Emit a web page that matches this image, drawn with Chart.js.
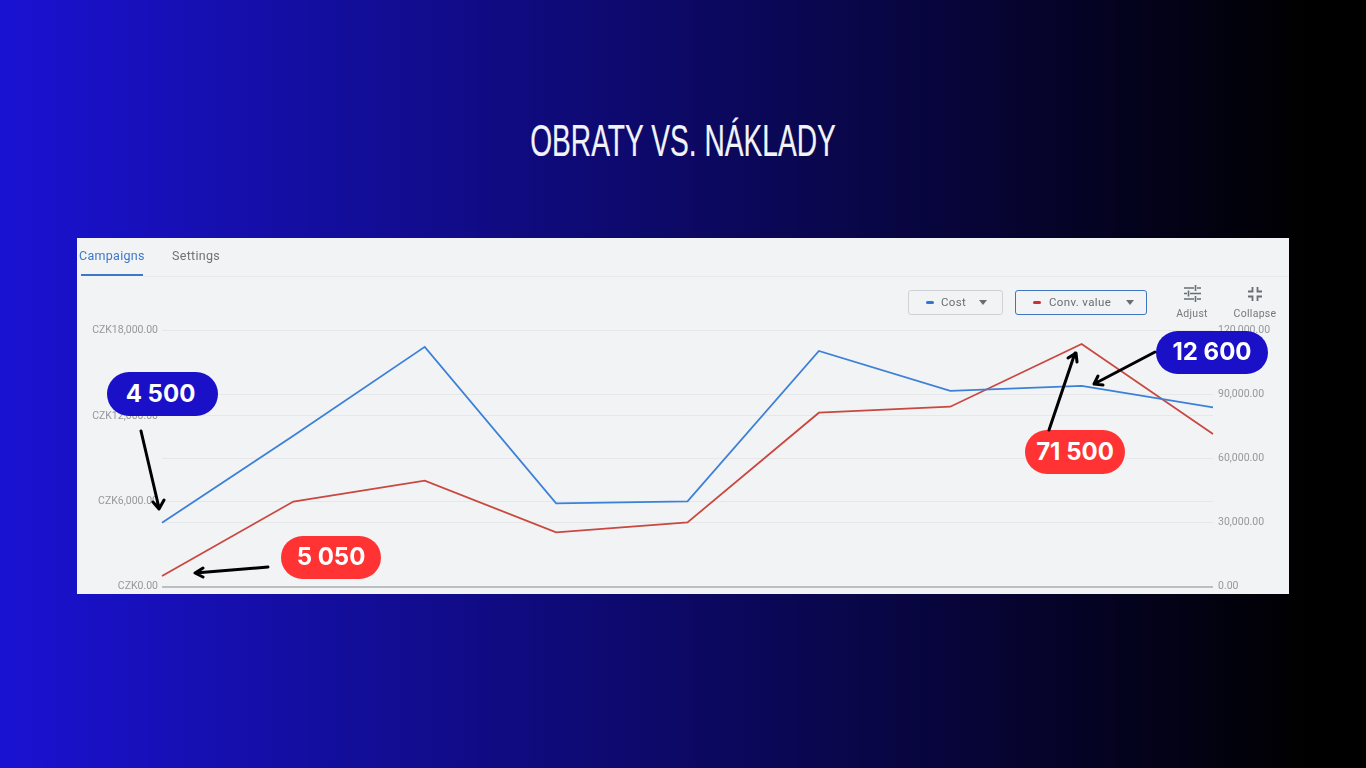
<!DOCTYPE html>
<html>
<head>
<meta charset="utf-8">
<title>Obraty vs. náklady</title>
<script src="https://cdn.jsdelivr.net/npm/chart.js@4"></script>
<style>
  html, body { margin: 0; padding: 0; }
  body { width: 1366px; height: 768px; overflow: hidden; position: relative;
         background: linear-gradient(90deg, #1a12d2 0%, #000 96%); font-family: Roboto, sans-serif; }
  h1 { position: absolute; left: 0; width: 1366px; top: 116px; margin: 0; text-align: center; color: #f2f3f7;
       font: 400 44px/50px "Liberation Sans", sans-serif; transform: scaleX(.64); transform-origin: 683px 0; white-space: nowrap;
       -webkit-text-stroke: .2px #f2f3f7; }
  #panel { position: absolute; left: 77px; top: 238px; width: 1212px; height: 356px; background: #f1f3f5; overflow: hidden; }
  #myChart { position: absolute; left: 0; top: 0; }
  .abs { position: absolute; white-space: nowrap; }
  .tab { top: 10px; font-size: 12.5px; line-height: 16px; letter-spacing: .3px; }
  .chip { box-sizing: border-box; top: 52px; height: 25px; border-radius: 3px; }
  .dash { top: 63px; width: 8px; height: 3px; border-radius: 2px; }
  .chipText { top: 57px; font-size: 11.5px; line-height: 15px; letter-spacing: .35px; color: #6a6e73; }
  .caret { top: 62px; width: 0; height: 0; border-left: 4.5px solid transparent; border-right: 4.5px solid transparent; border-top: 5px solid #6a6e73; }
  .tool { top: 69px; font-size: 10.5px; line-height: 14px; letter-spacing: .3px; color: #75797e; transform: translateX(-50%); }
  .badge { position: absolute; color: #fff; font: 700 24px/1 Inter, sans-serif; display: flex; align-items: center; justify-content: center; border-radius: 22px; height: 44px; box-sizing: border-box; padding-bottom: 1px; }
  #arrows { position: absolute; left: 0; top: 0; }
</style>
</head>
<body>
<h1>OBRATY VS. NÁKLADY</h1>
<div id="panel">
  <canvas id="myChart" width="1212" height="356"></canvas>
  <div class="abs tab" style="left:2px;color:#3c78c9">Campaigns</div>
  <div class="abs tab" style="left:95px;color:#6f7377">Settings</div>
  <div class="abs" style="left:4px;top:36px;width:62px;height:2px;background:#3c78c9"></div>
  <div class="abs" style="left:66px;top:38px;width:1146px;height:1px;background:#e7e9eb"></div>

  <div class="abs chip" style="left:831px;width:95px;border:1.5px solid #cfd2d5"></div>
  <div class="abs dash" style="left:849px;background:#2f76d8"></div>
  <div class="abs chipText" style="left:864px">Cost</div>
  <div class="abs caret" style="left:902px"></div>
  <div class="abs chip" style="left:938px;width:132px;border:1.5px solid #3f74bf"></div>
  <div class="abs dash" style="left:956px;background:#cf2e2e"></div>
  <div class="abs chipText" style="left:972px">Conv. value</div>
  <div class="abs caret" style="left:1049px"></div>

  <svg class="abs" style="left:1107px;top:47px" width="17" height="17" viewBox="0 0 17 17" stroke="#6a6e73" stroke-width="1.6" fill="none">
    <path d="M0 3H10M13 3H17M11.5 0V6M0 8.5H3M6 8.5H17M4.5 5.5V11.5M0 14H10M13 14H17M11.5 11V17"/>
  </svg>
  <div class="abs tool" style="left:1115px">Adjust</div>
  <svg class="abs" style="left:1171px;top:49px" width="14" height="14" viewBox="0 0 14 14" stroke="#6a6e73" stroke-width="1.8" fill="none">
    <path d="M4.5 0V4.5H0M9.5 0V4.5H14M4.5 14V9.5H0M9.5 14V9.5H14"/>
  </svg>
  <div class="abs tool" style="left:1178px">Collapse</div>
</div>

<div class="badge" style="left:107px;top:372px;width:111px;padding-right:4px;background:#1a10c8">4 500</div>
<div class="badge" style="left:1156px;top:331px;width:112px;height:43px;background:#1a10c8">12 600</div>
<div class="badge" style="left:281px;top:536px;width:100px;height:43px;background:#ff3333">5 050</div>
<div class="badge" style="left:1025px;top:430px;width:100px;background:#ff3333">71 500</div>

<svg id="arrows" width="1366" height="768" fill="none" stroke="#000" stroke-width="3" stroke-linecap="round" stroke-linejoin="round">
  <path d="M141 431L159 508M153 502L159 509L164 500"/>
  <path d="M268 567L195 573M203 568L195 573L203 577"/>
  <path d="M1049 430L1075 353M1068 358L1076 353L1077 362"/>
  <path d="M1155 352L1094 384M1098 376L1094 384L1103 385"/>
</svg>

<script>
const categories = ['1', '2', '3', '4', '5', '6', '7', '8', '9'];
const costValues = [4500, 10600, 16850, 5850, 5990, 16560, 13760, 14110, 12600];
const convValues = [5050, 39900, 49700, 25450, 30100, 81500, 84300, 113700, 71500];
const costTicks = [0, 6000, 12000, 18000];
const convTicks = [0, 30000, 60000, 90000, 120000];

const money = v => v.toLocaleString('en-US', { minimumFractionDigits: 2, maximumFractionDigits: 2 });
const tickFont = { family: 'Roboto', size: 10.5 };
const gridColor = '#e5e7e9';
const baseColor = '#bcbfc2';

// setup
const data = {
  labels: categories,
  datasets: [
    { label: 'Cost', data: costValues, yAxisID: 'yCost', borderColor: '#3d80d8', borderWidth: 1.8, pointRadius: 0, tension: 0 },
    { label: 'Conv. value', data: convValues, yAxisID: 'yConv', borderColor: '#c9483f', borderWidth: 1.8, pointRadius: 0, tension: 0 }
  ]
};

// config
const config = {
  type: 'line',
  data,
  options: {
    responsive: false,
    maintainAspectRatio: false,
    animation: false,
    layout: { autoPadding: false, padding: { top: 92.5, bottom: 6.5, left: 0, right: 0 } },
    plugins: { legend: { display: false }, tooltip: { enabled: false } },
    scales: {
      x: { display: false, offset: false },
      yCost: {
        position: 'left',
        min: 0,
        max: 18000,
        afterFit: s => { s.width = 85; },
        afterBuildTicks: s => { s.ticks = costTicks.map(value => ({ value })); },
        grid: {
          drawTicks: false,
          color: c => (c.tick && c.tick.value === 0 ? baseColor : gridColor),
          lineWidth: c => (c.tick && c.tick.value === 0 ? 2 : 1)
        },
        border: { display: false },
        ticks: { font: tickFont, color: '#95989c', padding: 4, callback: v => 'CZK' + money(v) }
      },
      yConv: {
        position: 'right',
        min: 0,
        max: 120000,
        afterFit: s => { s.width = 76; },
        afterBuildTicks: s => { s.ticks = convTicks.map(value => ({ value })); },
        grid: {
          drawTicks: false,
          color: c => (c.tick && c.tick.value === 0 ? baseColor : gridColor),
          lineWidth: c => (c.tick && c.tick.value === 0 ? 2 : 1)
        },
        border: { display: false },
        ticks: { font: tickFont, color: '#95989c', padding: 5, callback: v => money(v) }
      }
    }
  }
};

// render init block
const myChart = new Chart(document.getElementById('myChart'), config);

// plot area came out short of the panel bottom, grow the canvas till it lands (panel clips the rest)
// whole pixels only, a fractional canvas height blurs the lines
const plotBottom = 349;
for (let i = 0; i < 5; i++) {
  const gap = plotBottom - myChart.chartArea.bottom;
  if (Math.abs(gap) < 0.6) break;
  myChart.resize(1212, Math.round(myChart.height + gap));
}
</script>
</body>
</html>
